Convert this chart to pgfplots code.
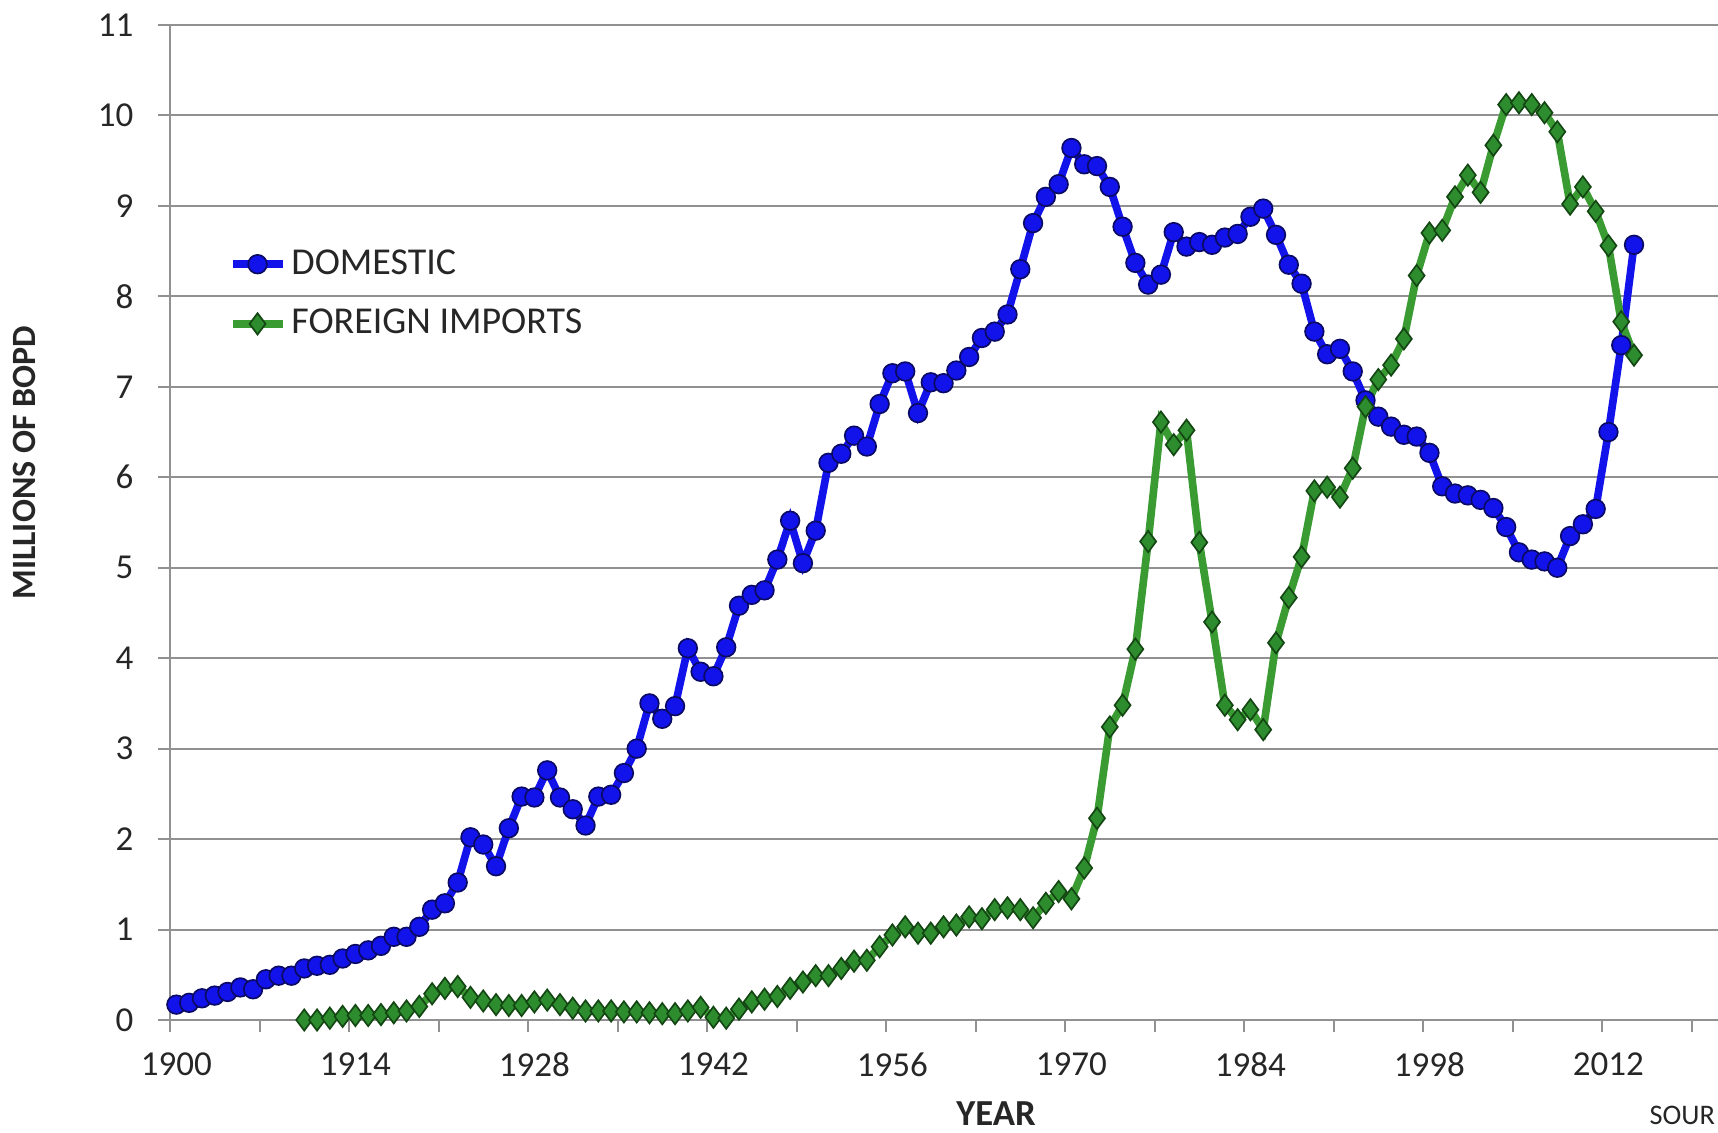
\documentclass[border=0pt]{standalone}
\usepackage{fontspec}
\setmainfont{Carlito}
\usepackage{pgfplots}
\pgfplotsset{compat=1.18}
\usepackage{pgfplotstable}

\definecolor{domblue}{RGB}{18,18,235}
\definecolor{domedge}{RGB}{10,10,100}
\definecolor{impgreen}{RGB}{58,155,50}
\definecolor{impfill}{RGB}{45,140,45}
\definecolor{impedge}{RGB}{20,70,20}
\definecolor{gridgray}{RGB}{145,145,145}

% domestic crude production, millions of barrels per day
\pgfplotstableread{
year mbd
1900 0.17
1901 0.19
1902 0.24
1903 0.27
1904 0.31
1905 0.36
1906 0.34
1907 0.45
1908 0.49
1909 0.49
1910 0.57
1911 0.60
1912 0.61
1913 0.68
1914 0.73
1915 0.77
1916 0.82
1917 0.92
1918 0.92
1919 1.03
1920 1.22
1921 1.29
1922 1.52
1923 2.02
1924 1.94
1925 1.70
1926 2.12
1927 2.47
1928 2.46
1929 2.76
1930 2.46
1931 2.33
1932 2.15
1933 2.47
1934 2.49
1935 2.73
1936 3.00
1937 3.50
1938 3.33
1939 3.47
1940 4.11
1941 3.85
1942 3.80
1943 4.12
1944 4.58
1945 4.70
1946 4.75
1947 5.09
1948 5.52
1949 5.05
1950 5.41
1951 6.16
1952 6.26
1953 6.46
1954 6.34
1955 6.81
1956 7.15
1957 7.17
1958 6.71
1959 7.05
1960 7.04
1961 7.18
1962 7.33
1963 7.54
1964 7.61
1965 7.80
1966 8.30
1967 8.81
1968 9.10
1969 9.24
1970 9.64
1971 9.46
1972 9.44
1973 9.21
1974 8.77
1975 8.37
1976 8.13
1977 8.24
1978 8.71
1979 8.55
1980 8.60
1981 8.57
1982 8.65
1983 8.69
1984 8.88
1985 8.97
1986 8.68
1987 8.35
1988 8.14
1989 7.61
1990 7.36
1991 7.42
1992 7.17
1993 6.85
1994 6.67
1995 6.56
1996 6.47
1997 6.45
1998 6.27
1999 5.90
2000 5.82
2001 5.80
2002 5.75
2003 5.66
2004 5.45
2005 5.17
2006 5.09
2007 5.07
2008 5.00
2009 5.35
2010 5.48
2011 5.65
2012 6.50
2013 7.46
2014 8.57
}\domestic

% foreign imports, millions of barrels per day
\pgfplotstableread{
year mbd
1910 0.00
1911 0.00
1912 0.02
1913 0.04
1914 0.05
1915 0.05
1916 0.06
1917 0.08
1918 0.10
1919 0.15
1920 0.29
1921 0.35
1922 0.37
1923 0.25
1924 0.21
1925 0.17
1926 0.16
1927 0.16
1928 0.20
1929 0.22
1930 0.17
1931 0.13
1932 0.10
1933 0.10
1934 0.10
1935 0.09
1936 0.09
1937 0.08
1938 0.07
1939 0.07
1940 0.10
1941 0.14
1942 0.03
1943 0.02
1944 0.12
1945 0.20
1946 0.23
1947 0.26
1948 0.35
1949 0.42
1950 0.49
1951 0.49
1952 0.57
1953 0.65
1954 0.66
1955 0.81
1956 0.94
1957 1.03
1958 0.96
1959 0.96
1960 1.03
1961 1.05
1962 1.14
1963 1.12
1964 1.22
1965 1.24
1966 1.22
1967 1.13
1968 1.29
1969 1.42
1970 1.34
1971 1.68
1972 2.23
1973 3.24
1974 3.48
1975 4.10
1976 5.29
1977 6.61
1978 6.36
1979 6.52
1980 5.28
1981 4.40
1982 3.48
1983 3.32
1984 3.43
1985 3.21
1986 4.17
1987 4.67
1988 5.12
1989 5.85
1990 5.89
1991 5.78
1992 6.10
1993 6.78
1994 7.08
1995 7.24
1996 7.53
1997 8.23
1998 8.70
1999 8.73
2000 9.10
2001 9.34
2002 9.15
2003 9.67
2004 10.12
2005 10.14
2006 10.12
2007 10.03
2008 9.82
2009 9.02
2010 9.21
2011 8.94
2012 8.56
2013 7.72
2014 7.35
}\imports

\begin{document}
\begin{tikzpicture}
\useasboundingbox (-51pt,-33.6pt) rectangle (464.4pt,306pt);
\begin{axis}[
    at={(0,0)}, anchor=south west,
    scale only axis,
    width=464.4pt, height=298.5pt,
    xmin=1899.5, xmax=2020.57,
    ymin=0, ymax=11,
    clip=false,
    axis lines*=left,
    axis line style={gridgray, line width=0.6pt},
    tick align=outside,
    major tick length=3.6pt,
    minor tick length=3.6pt,
    ytick={0,1,...,11},
    xtick={1900,1914,1928,1942,1956,1970,1984,1998,2012},
    xticklabels={1900,1914,1928,1942,1956,1970,1984,1998,2012},
    minor xtick={1899.5,1906.5,1913.5,1920.5,1927.5,1934.5,1941.5,1948.5,1955.5,1962.5,1969.5,1976.5,1983.5,1990.5,1997.5,2004.5,2011.5,2018.5},
    major x tick style={draw=none},
    minor x tick style={gridgray, line width=0.6pt},
    major y tick style={gridgray, line width=0.6pt},
    ymajorgrids,
    major grid style={gridgray, line width=0.6pt},
    tick label style={font=\fontsize{10.5}{12}\selectfont, text=black!85},
    /pgf/number format/assume math mode=true,
    yticklabel style={inner sep=0pt, xshift=-7.2pt},
    xticklabel style={inner sep=0pt, yshift=-6pt},
    xlabel={YEAR},
    xlabel style={at={(axis description cs:0.5336,-0.094)}, anchor=center,
        inner sep=0pt,
        font=\bfseries\fontsize{11}{13}\selectfont, text=black!85},
    ylabel={MILLIONS OF BOPD},
    ylabel style={at={(axis description cs:-0.0937,0.560)}, anchor=center,
        font=\bfseries\fontsize{10.2}{12}\selectfont, text=black!85},
    legend cell align=left,
    legend style={at={(axis description cs:0.0375,0.7296)}, anchor=west,
        draw=none, fill=none, inner sep=0pt, row sep=6pt,
        nodes={inner sep=1.5pt},
        font=\fontsize{11.4}{13}\selectfont, text=black!85},
    legend image code/.code={
        \draw[#1] (0pt,0pt) -- (15pt,0pt);
        \draw[#1, only marks] plot coordinates {(7.5pt,0pt)};
    },
]
\addplot[domblue, line width=2.3pt, mark=*, mark size=2.8pt,
    mark options={fill=domblue, draw=domedge, line width=0.5pt}]
    table[x=year, y=mbd] {\domestic};
\addlegendentry{DOMESTIC}
\addplot[impgreen, line width=2.3pt, mark=diamond*, mark size=3.2pt,
    mark options={fill=impfill, draw=impedge, line width=0.5pt}]
    table[x=year, y=mbd] {\imports};
\addlegendentry{FOREIGN IMPORTS}
\node[anchor=base east, inner sep=0pt, font=\fontsize{8.5}{10}\selectfont, text=black!85]
    at (rel axis cs:0.9985,-0.105) {SOUR};
\end{axis}
\end{tikzpicture}
\end{document}
